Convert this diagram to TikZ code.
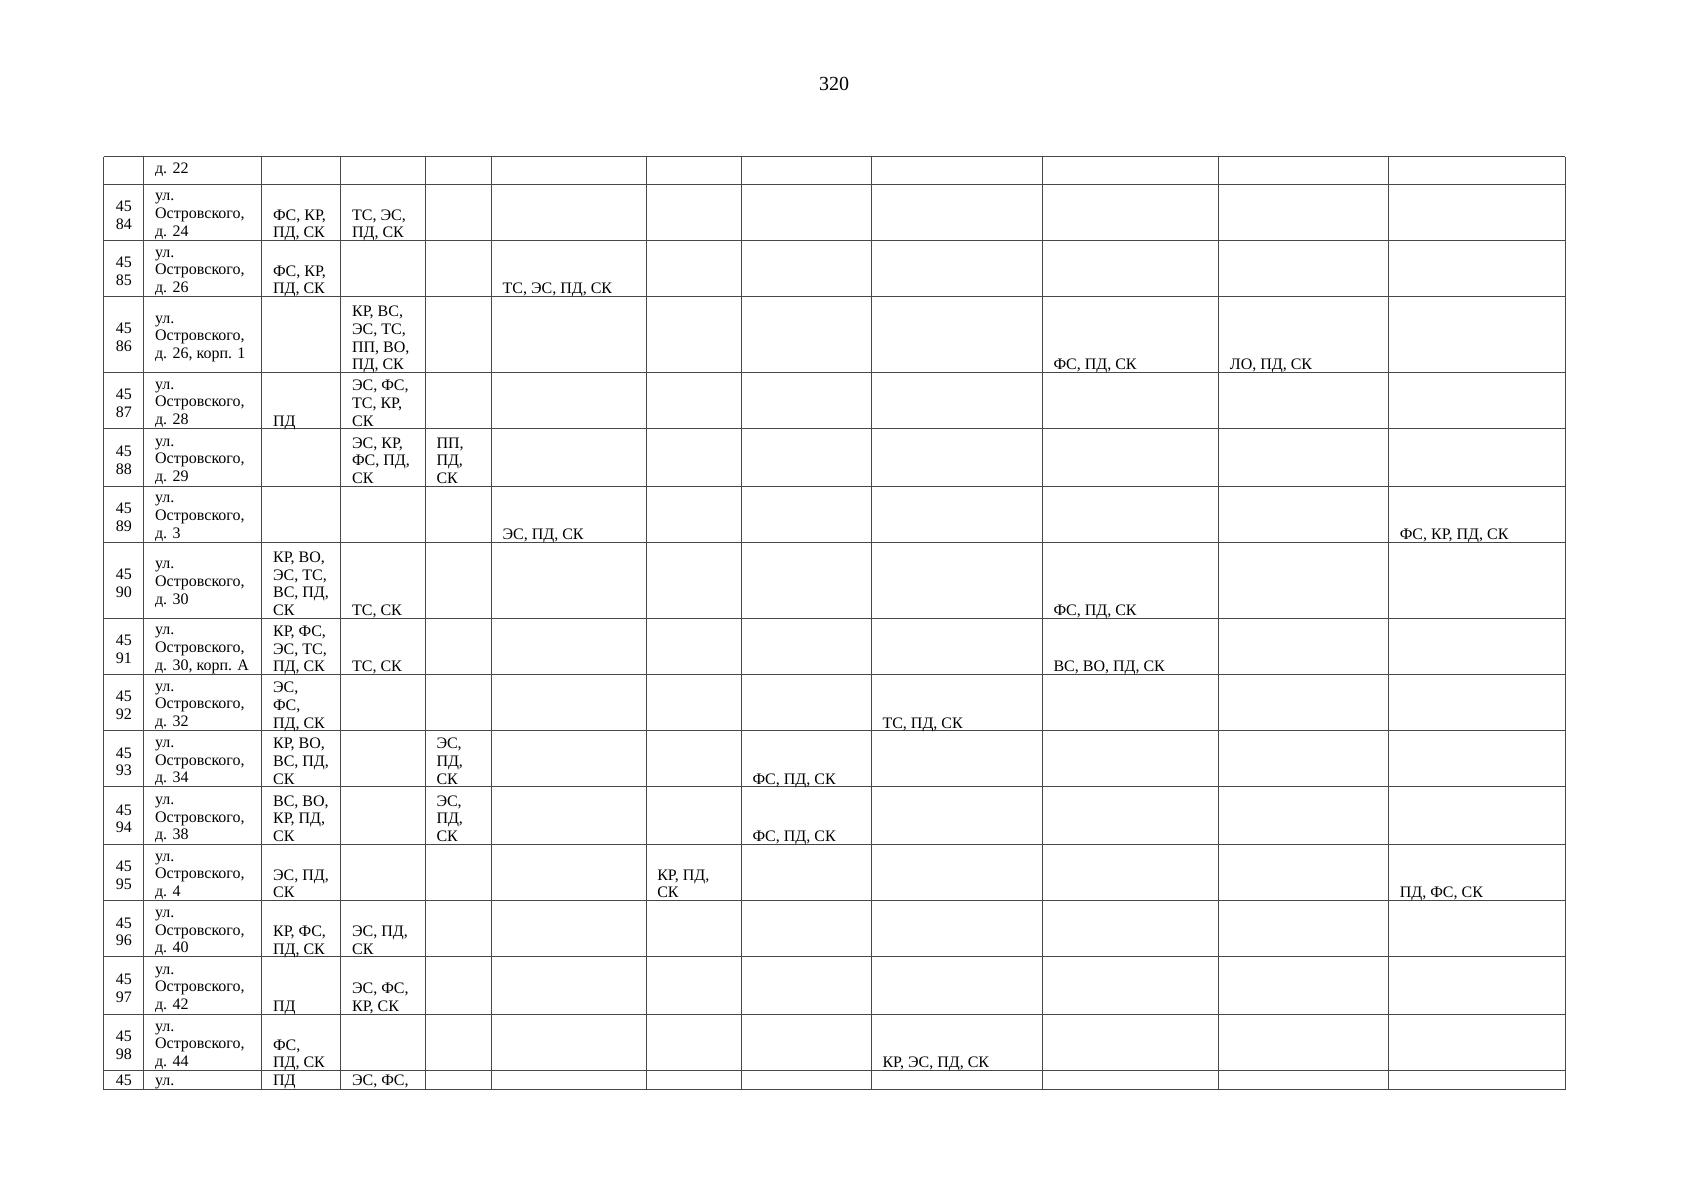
\documentclass[tikz,border=0pt]{standalone}
\usepackage{fontspec}
\setmainfont{Liberation Serif}
\def\colA{103.9}\def\colB{143.9}\def\colC{261.9}\def\colD{340.9}\def\colE{425.3}\def\colF{491.4}
\def\colG{646.1}\def\colH{741.4}\def\colI{871.3}\def\colJ{1042.3}\def\colK{1218.7}\def\colL{1388.6}\def\colM{1565.0}
\tikzset{
  gridline/.style={line width=1pt, draw=black!72},
  txt/.style={font=\fontsize{16}{17.7}\selectfont, inner sep=0pt, anchor=base west},
  num/.style={font=\fontsize{16}{17.7}\selectfont, inner sep=0pt, anchor=base},
}
% bottom aligned cell: name, column left, row bottom, number of lines, lines
\newcommand\cellb[5]{\foreach[count=\i] \celltext in {#5}{\node[txt] (#1-\i) at ({#2+11},{#3-2.6-(#4-\i)*17.7}) {\celltext};}}
% address cell, vertically centred: name, row top, row bottom, n, lines
\newcommand\cella[5]{\foreach[count=\i] \celltext in {#5}{\node[txt] (#1-\i) at ({\colB+11},{(#2+#3)/2+6.5+(\i-(#4+1)/2)*17.7}) {\celltext};}}
% number cell: name, row top, row bottom, second line
\newcommand\celln[4]{\node[num] (#1-1) at ({(\colA+\colB)/2},{(#2+#3)/2-0.5}) {45};
  \node[num] (#1-2) at ({(\colA+\colB)/2},{(#2+#3)/2+17.2}) {#4};}
\begin{document}
\begin{tikzpicture}[x=1pt,y=-1pt]
\useasboundingbox (0,0) rectangle (1697,1200);
\node[font=\fontsize{20}{24}\selectfont, inner sep=0pt, anchor=base] (page) at (834,90.7) {320};
% grid
\foreach \x in {103.9,143.9,261.9,340.9,425.3,491.4,646.1,741.4,871.3,1042.3,1218.7,1388.6,1565.0}
  \draw[gridline] (\x,156.9) -- (\x,1089.9);
\foreach \y in {156.9,184,240.3,296.5,372.3,428.6,486,542.2,618,674.3,730.6,786.8,844.2,900.5,956.7,1014.1,1070.4,1089.9}
  \draw[gridline] (103.9,\y) -- (1565.0,\y);
% row 0
\node[txt] (a0) at ({\colB+11},173) {д. 22};
% 4584
\celln{n84}{184}{240.3}{84}
\cella{a84}{184}{240.3}{3}{{ул.},{Островского,},{д. 24}}
\cellb{c84}{\colC}{240.3}{2}{{ФС, КР,},{ПД, СК}}
\cellb{d84}{\colD}{240.3}{2}{{ТС, ЭС,},{ПД, СК}}
% 4585
\celln{n85}{240.3}{296.5}{85}
\cella{a85}{240.3}{296.5}{3}{{ул.},{Островского,},{д. 26}}
\cellb{c85}{\colC}{296.5}{2}{{ФС, КР,},{ПД, СК}}
\cellb{f85}{\colF}{296.5}{1}{{ТС, ЭС, ПД, СК}}
% 4586
\celln{n86}{296.5}{372.3}{86}
\cella{a86}{296.5}{372.3}{3}{{ул.},{Островского,},{д. 26, корп. 1}}
\cellb{d86}{\colD}{372.3}{4}{{КР, ВС,},{ЭС, ТС,},{ПП, ВО,},{ПД, СК}}
\cellb{j86}{\colJ}{372.3}{1}{{ФС, ПД, СК}}
\cellb{k86}{\colK}{372.3}{1}{{ЛО, ПД, СК}}
% 4587
\celln{n87}{372.3}{428.6}{87}
\cella{a87}{372.3}{428.6}{3}{{ул.},{Островского,},{д. 28}}
\cellb{c87}{\colC}{428.6}{1}{{ПД}}
\cellb{d87}{\colD}{428.6}{3}{{ЭС, ФС,},{ТС, КР,},{СК}}
% 4588
\celln{n88}{428.6}{486}{88}
\cella{a88}{428.6}{486}{3}{{ул.},{Островского,},{д. 29}}
\cellb{d88}{\colD}{486}{3}{{ЭС, КР,},{ФС, ПД,},{СК}}
\cellb{e88}{\colE}{486}{3}{{ПП,},{ПД,},{СК}}
% 4589
\celln{n89}{486}{542.2}{89}
\cella{a89}{486}{542.2}{3}{{ул.},{Островского,},{д. 3}}
\cellb{f89}{\colF}{542.2}{1}{{ЭС, ПД, СК}}
\cellb{l89}{\colL}{542.2}{1}{{ФС, КР, ПД, СК}}
% 4590
\celln{n90}{542.2}{618}{90}
\cella{a90}{542.2}{618}{3}{{ул.},{Островского,},{д. 30}}
\cellb{c90}{\colC}{618}{4}{{КР, ВО,},{ЭС, ТС,},{ВС, ПД,},{СК}}
\cellb{d90}{\colD}{618}{1}{{ТС, СК}}
\cellb{j90}{\colJ}{618}{1}{{ФС, ПД, СК}}
% 4591
\celln{n91}{618}{674.3}{91}
\cella{a91}{618}{674.3}{3}{{ул.},{Островского,},{д. 30, корп. А}}
\cellb{c91}{\colC}{674.3}{3}{{КР, ФС,},{ЭС, ТС,},{ПД, СК}}
\cellb{d91}{\colD}{674.3}{1}{{ТС, СК}}
\cellb{j91}{\colJ}{674.3}{1}{{ВС, ВО, ПД, СК}}
% 4592
\celln{n92}{674.3}{730.6}{92}
\cella{a92}{674.3}{730.6}{3}{{ул.},{Островского,},{д. 32}}
\cellb{c92}{\colC}{730.6}{3}{{ЭС,},{ФС,},{ПД, СК}}
\cellb{i92}{\colI}{730.6}{1}{{ТС, ПД, СК}}
% 4593
\celln{n93}{730.6}{786.8}{93}
\cella{a93}{730.6}{786.8}{3}{{ул.},{Островского,},{д. 34}}
\cellb{c93}{\colC}{786.8}{3}{{КР, ВО,},{ВС, ПД,},{СК}}
\cellb{e93}{\colE}{786.8}{3}{{ЭС,},{ПД,},{СК}}
\cellb{h93}{\colH}{786.8}{1}{{ФС, ПД, СК}}
% 4594
\celln{n94}{786.8}{844.2}{94}
\cella{a94}{786.8}{844.2}{3}{{ул.},{Островского,},{д. 38}}
\cellb{c94}{\colC}{844.2}{3}{{ВС, ВО,},{КР, ПД,},{СК}}
\cellb{e94}{\colE}{844.2}{3}{{ЭС,},{ПД,},{СК}}
\cellb{h94}{\colH}{844.2}{1}{{ФС, ПД, СК}}
% 4595
\celln{n95}{844.2}{900.5}{95}
\cella{a95}{844.2}{900.5}{3}{{ул.},{Островского,},{д. 4}}
\cellb{c95}{\colC}{900.5}{2}{{ЭС, ПД,},{СК}}
\cellb{g95}{\colG}{900.5}{2}{{КР, ПД,},{СК}}
\cellb{l95}{\colL}{900.5}{1}{{ПД, ФС, СК}}
% 4596
\celln{n96}{900.5}{956.7}{96}
\cella{a96}{900.5}{956.7}{3}{{ул.},{Островского,},{д. 40}}
\cellb{c96}{\colC}{956.7}{2}{{КР, ФС,},{ПД, СК}}
\cellb{d96}{\colD}{956.7}{2}{{ЭС, ПД,},{СК}}
% 4597
\celln{n97}{956.7}{1014.1}{97}
\cella{a97}{956.7}{1014.1}{3}{{ул.},{Островского,},{д. 42}}
\cellb{c97}{\colC}{1014.1}{1}{{ПД}}
\cellb{d97}{\colD}{1014.1}{2}{{ЭС, ФС,},{КР, СК}}
% 4598
\celln{n98}{1014.1}{1070.4}{98}
\cella{a98}{1014.1}{1070.4}{3}{{ул.},{Островского,},{д. 44}}
\cellb{c98}{\colC}{1070.4}{2}{{ФС,},{ПД, СК}}
\cellb{i98}{\colI}{1070.4}{1}{{КР, ЭС, ПД, СК}}
% last partial row
\node[num] (n99) at ({(\colA+\colB)/2},1085.5) {45};
\cellb{a99}{\colB}{1088.5}{1}{{ул.}}
\cellb{c99}{\colC}{1088.5}{1}{{ПД}}
\cellb{d99}{\colD}{1088.5}{1}{{ЭС, ФС,}}
\end{tikzpicture}
\end{document}
